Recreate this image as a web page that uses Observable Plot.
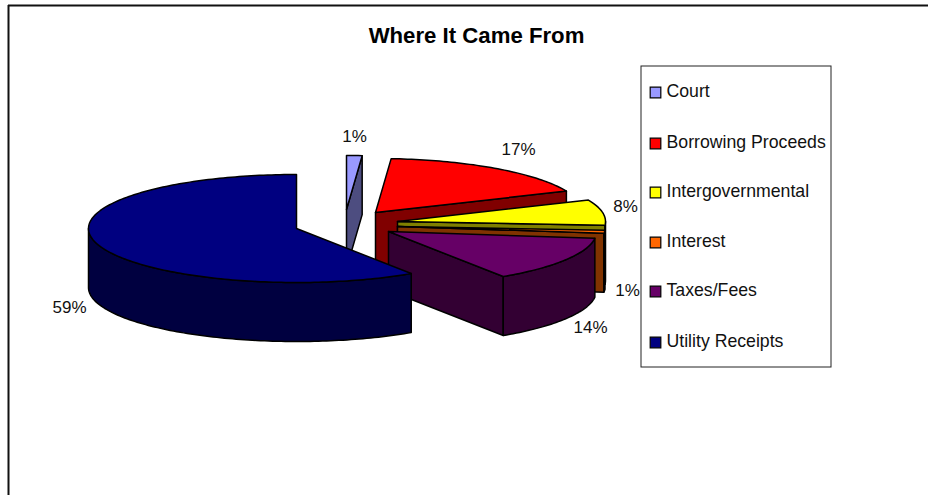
<!DOCTYPE html>
<html><head><meta charset="utf-8">
<style>html,body{margin:0;padding:0;background:#fff}svg{display:block}</style>
<script src="https://cdn.jsdelivr.net/npm/d3@7"></script>
<script src="https://cdn.jsdelivr.net/npm/@observablehq/plot@0.6"></script>
</head><body>
<div id="chart"></div>
<script>
const categories = ["Court","Borrowing Proceeds","Intergovernmental","Interest","Taxes/Fees","Utility Receipts"];
const shares = [1.2,17.3,7.6,0.9,13.7,59.3];
const topColors = ["#9999ff","#ff0000","#ffff00","#ff6600","#660066","#000080"];
const sideColors = ["#4d4d80","#800000","#808000","#803300","#330033","#000040"];
// explosion: apex of every slice's top face
const apexX = [346,375,397,397,388,296];
const apexY = [209,212,221,226,231,228];
const labelX = [354,518,625,627,590,69];
const labelY = [136,149,206,290,327,307];
const legendY = [92,143,192,242,291,342];
const rx = 208, ry = 54, depth = 59;

const sum = d3.sum(shares);
let acc = 0;
const slices = categories.map((name,i)=>{
  const a0 = acc/sum*2*Math.PI; acc += shares[i];
  const a1 = acc/sum*2*Math.PI;
  return {name,i,a0,a1,share:shares[i]/sum};
});
function rim(s,a,dy=0){return {x:apexX[s.i]+rx*Math.sin(a), y:apexY[s.i]-ry*Math.cos(a)+dy};}
function arc(s,a0,a1,dy=0){
  const n=Math.max(2,Math.ceil((a1-a0)/0.02)), pts=[];
  for(let k=0;k<=n;k++) pts.push(rim(s,a0+(a1-a0)*k/n,dy));
  return pts;
}
const poly=(pts,fill)=>Plot.line(pts,{x:"x",y:"y",fill,stroke:"#000",strokeWidth:1.5,curve:"linear-closed",strokeLinejoin:"round"});
const faces=[];
for(const s of slices){
  const c=sideColors[s.i], ax=apexX[s.i], ay=apexY[s.i];
  const apex={x:ax,y:ay}, apexB={x:ax,y:ay+depth};
  if(s.a1<Math.PI){
    const e=rim(s,s.a1), eb=rim(s,s.a1,depth);
    faces.push(poly([apex,e,eb,apexB],c));
  }
  if(s.a0>Math.PI){
    const e=rim(s,s.a0), eb=rim(s,s.a0,depth);
    faces.push(poly([apex,e,eb,apexB],c));
  }
  const w0=Math.max(s.a0,Math.PI/2), w1=Math.min(s.a1,3*Math.PI/2);
  if(w1>w0){
    faces.push(poly([...arc(s,w0,w1),...arc(s,w0,w1,depth).reverse()],c));
  }
  faces.push(poly([apex,...arc(s,s.a0,s.a1)],topColors[s.i]));
}
const font="Liberation Sans, Arial, sans-serif";
const legendRows=categories.map((name,i)=>({name,i}));
const plot=Plot.plot({
  width:928,height:495,margin:0,
  style:{background:"#fff",fontFamily:font},
  x:{domain:[0,928],range:[0,928],axis:null},
  y:{domain:[0,495],range:[0,495],axis:null},
  marks:[
    Plot.ruleY([5],{x1:8,x2:928,stroke:"#111",strokeWidth:2}),
    Plot.ruleX([8],{y1:5,y2:495,stroke:"#111",strokeWidth:2}),
    ...faces,
    Plot.text(slices,{x:d=>labelX[d.i],y:d=>labelY[d.i],text:d=>d3.format(".0%")(d.share),fontSize:17,fill:"#111"}),
    Plot.text(["Where It Came From"],{x:()=>476,y:()=>35,text:d=>d,fontSize:22.2,fontWeight:"bold",fill:"#000"}),
    Plot.rect([{}],{x1:()=>641,x2:()=>831,y1:()=>66,y2:()=>367,fill:"#fff",stroke:"#222",strokeWidth:1}),
    Plot.dot(legendRows,{x:()=>655,y:d=>legendY[d.i],symbol:"square",r:6,fill:d=>topColors[d.i],stroke:"#000",strokeWidth:1.2}),
    Plot.text(legendRows,{x:()=>666,y:d=>legendY[d.i]-1,text:"name",textAnchor:"start",fontSize:17.7,fill:"#111"})
  ]
});
document.getElementById("chart").appendChild(plot);
</script>
</body></html>
